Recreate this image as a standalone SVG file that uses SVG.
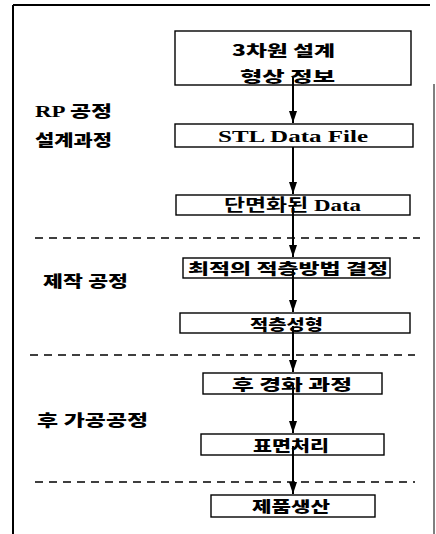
<svg xmlns="http://www.w3.org/2000/svg" width="436" height="534" viewBox="0 0 436 534">
<style>
.box{fill:#fff;stroke:#000;stroke-width:1.4}
.t{font-family:"Liberation Serif","Noto Sans CJK KR",serif;font-weight:bold;font-size:17px;fill:#000}
.k{font-family:"Noto Sans CJK KR","Liberation Serif",sans-serif;font-weight:900;font-size:15px;fill:#000}
.lab{font-family:"Liberation Serif","Noto Sans CJK KR",serif;font-weight:900;font-size:16px;fill:#000}
.sep{stroke:#000;stroke-width:1.5;stroke-dasharray:8,6;fill:none}
.conn{stroke:#000;stroke-width:2;fill:none;marker-end:url(#ah)}
</style>
<defs>
<marker id="ah" viewBox="0 0 12 8" refX="12" refY="4" markerWidth="12" markerHeight="8" markerUnits="userSpaceOnUse" orient="auto">
<path d="M0,0 L12,4 L0,8 z" fill="#000"/>
</marker>
</defs>
<rect width="436" height="534" fill="#fff"/>
<g id="frame" stroke="#000" fill="none">
<line x1="13" y1="5" x2="430" y2="5" stroke-width="2"/>
<line x1="13" y1="5" x2="13" y2="534" stroke-width="2"/>
<line x1="434" y1="84" x2="434" y2="534" stroke-width="1"/>
</g>
<g id="separators">
<line class="sep" x1="35" y1="238" x2="420" y2="238"/>
<line class="sep" x1="30" y1="355" x2="415" y2="355"/>
<line class="sep" x1="35" y1="482" x2="415" y2="482"/>
</g>
<g id="labels">
<text class="lab" x="35" y="117" textLength="77" lengthAdjust="spacingAndGlyphs">RP 공정</text>
<text class="lab" x="35" y="146" textLength="77" lengthAdjust="spacingAndGlyphs">설계과정</text>
<text class="lab" x="43" y="287" textLength="85" lengthAdjust="spacingAndGlyphs">제작 공정</text>
<text class="lab" x="37" y="426" textLength="111" lengthAdjust="spacingAndGlyphs">후 가공공정</text>
</g>
<g id="n1">
<rect class="box" x="175" y="31" width="236" height="54"/>
<text class="k" x="232" y="56" textLength="103" lengthAdjust="spacingAndGlyphs">3차원 설계</text>
<text class="k" x="240" y="82" textLength="95" lengthAdjust="spacingAndGlyphs">형상 정보</text>
</g>
<g id="n2">
<rect class="box" x="175" y="124" width="238" height="23"/>
<text class="t" x="218" y="142" textLength="150" lengthAdjust="spacingAndGlyphs">STL Data File</text>
</g>
<g id="n3">
<rect class="box" x="176" y="195" width="234" height="20"/>
<text class="t" x="224" y="211" textLength="137" lengthAdjust="spacingAndGlyphs">단면화된 Data</text>
</g>
<g id="n4">
<rect class="box" x="183" y="258" width="207" height="20"/>
<text class="k" x="188" y="274" textLength="200" lengthAdjust="spacingAndGlyphs">최적의 적층방법 결정</text>
</g>
<g id="n5">
<rect class="box" x="180" y="313" width="230" height="20"/>
<text class="k" x="250" y="330" textLength="73" lengthAdjust="spacingAndGlyphs">적층성형</text>
</g>
<g id="n6">
<rect class="box" x="203" y="373" width="179" height="21"/>
<text class="k" x="232" y="390" textLength="120" lengthAdjust="spacingAndGlyphs">후 경화 과정</text>
</g>
<g id="n7">
<rect class="box" x="201" y="434" width="183" height="21"/>
<text class="k" x="253" y="451" textLength="76" lengthAdjust="spacingAndGlyphs">표면처리</text>
</g>
<g id="n8">
<rect class="box" x="211" y="495" width="164" height="22"/>
<text class="k" x="252" y="512" textLength="78" lengthAdjust="spacingAndGlyphs">제품생산</text>
</g>
<g id="connectors">
<line class="conn" x1="293" y1="76" x2="293" y2="123"/>
<line class="conn" x1="293" y1="147" x2="293" y2="194"/>
<line class="conn" x1="293" y1="205" x2="293" y2="257"/>
<line class="conn" x1="293" y1="270" x2="293" y2="312"/>
<line class="conn" x1="293" y1="326" x2="293" y2="372"/>
<line class="conn" x1="293" y1="385" x2="293" y2="433"/>
<line class="conn" x1="293" y1="446" x2="293" y2="494"/>
</g>
</svg>
